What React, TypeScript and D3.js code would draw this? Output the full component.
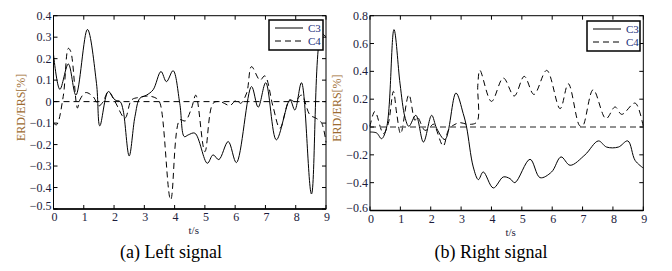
import React from 'react';
import * as d3 from 'd3';

type Pt = [number, number];

// (a) Left signal, [t, value]
const leftC3: Pt[] = [
  [0, 0.22], [0.21, 0.057], [0.49, 0.175], [0.74, 0.03], [1.12, 0.336], [1.42, 0.085],
  [1.53, -0.113], [1.81, 0.047], [2.03, 0.008], [2.2, 0], [2.3, -0.04], [2.5, -0.253],
  [2.69, -0.07], [2.85, 0.015], [3.07, 0.03], [3.29, 0.055], [3.55, 0.14], [3.73, 0.093],
  [3.95, 0.144], [4.17, -0.008], [4.32, -0.163], [4.45, -0.155], [4.67, -0.147],
  [5.08, -0.287], [5.27, -0.248], [5.46, -0.27], [5.77, -0.186], [6.04, -0.284],
  [6.54, 0.07], [6.76, -0.026], [7.01, 0.088], [7.36, -0.178], [7.81, 0.008],
  [7.97, -0.039], [8.19, 0.088], [8.52, -0.43], [8.85, 0.318], [9, 0.3],
];
const leftC4: Pt[] = [
  [0, -0.1], [0.1, -0.108], [0.32, 0.023], [0.49, 0.248], [0.57, 0.233], [0.79, -0.03],
  [0.87, 0.008], [1.06, 0.042], [1.31, 0.023], [1.5, -0.02], [1.64, 0], [1.81, 0.046],
  [2.03, 0], [2.36, -0.077], [2.58, 0.008], [2.85, 0.02], [3.13, 0.026], [3.4, 0.015],
  [3.52, -0.008], [3.87, -0.457], [4.17, -0.085], [4.35, -0.09], [4.56, -0.03],
  [4.7, 0.03], [5.0, -0.233], [5.27, -0.008], [5.5, 0], [5.83, -0.018], [6.04, 0.008],
  [6.18, -0.008], [6.38, 0.04], [6.54, 0.163], [6.82, 0.1], [6.98, 0.12], [7.25, -0.023],
  [7.48, -0.124], [7.8, 0.008], [7.97, 0], [8.19, 0.03], [8.47, -0.062], [8.68, -0.078],
  [8.85, -0.098], [9, -0.19],
];

// (b) Right signal, [t, value]
const rightC3: Pt[] = [
  [0, -0.036], [0.22, -0.043], [0.38, -0.084], [0.55, 0], [0.79, 0.7], [0.99, 0.31],
  [1.15, 0.072], [1.28, 0.005], [1.51, 0.084], [1.76, -0.108], [2.03, 0.084], [2.2, -0.012],
  [2.47, -0.09], [2.83, 0.244], [3.07, 0.096], [3.18, 0], [3.4, -0.287], [3.57, -0.378],
  [3.73, -0.323], [4.06, -0.438], [4.39, -0.359], [4.61, -0.371], [4.77, -0.4],
  [5.27, -0.232], [5.6, -0.364], [5.98, -0.323], [6.29, -0.215], [6.59, -0.275],
  [7.08, -0.2], [7.52, -0.1], [7.79, -0.144], [8.18, -0.144], [8.49, -0.1], [8.73, -0.24],
  [9, -0.295],
];
const rightC4: Pt[] = [
  [0, 0.005], [0.16, 0.112], [0.44, -0.048], [0.6, 0.024], [0.77, 0.256], [0.88, 0.096],
  [1.01, -0.048], [1.28, 0.232], [1.48, 0.048], [1.56, 0.072], [1.81, -0.024], [1.98, 0],
  [2.09, 0.02], [2.41, -0.136], [2.58, -0.024], [2.74, 0.012], [2.96, 0.031], [3.24, 0.019],
  [3.52, 0.036], [3.55, 0.3], [3.62, 0.407], [4.0, 0.184], [4.39, 0.352], [4.75, 0.223],
  [5.08, 0.364], [5.4, 0.234], [5.82, 0.407], [6.26, 0.132], [6.53, 0.311], [6.9, 0.01],
  [7.0, 0.005], [7.35, 0.268], [7.77, 0.06], [8.07, 0.144], [8.29, 0.091], [8.73, 0.172],
  [9, 0],
];

const xTicks = [0, 1, 2, 3, 4, 5, 6, 7, 8, 9];
const leftYTicks = [-0.5, -0.4, -0.3, -0.2, -0.1, 0, 0.1, 0.2, 0.3, 0.4];
const rightYTicks = [-0.6, -0.4, -0.2, 0, 0.2, 0.4, 0.6, 0.8];
const seriesNames = ['C3', 'C4'];

const serif = "'Liberation Serif', 'Times New Roman', 'DejaVu Serif', serif";
const tickColor = '#1c1c3c';
const labelColor = '#9c6b30';
const legendColor = '#22307a';

interface PanelProps {
  left: number;
  right: number;
  top: number;
  bottom: number;
  yDomain: [number, number];
  yTicks: number[];
  c3: Pt[];
  c4: Pt[];
  caption: string;
  captionX: number;
  zeroGrey: boolean;
  legendBox: [number, number, number, number];
}

const Panel: React.FC<PanelProps> = (p) => {
  const x = d3.scaleLinear().domain([0, 9]).range([p.left, p.right]);
  const y = d3.scaleLinear().domain(p.yDomain).range([p.bottom, p.top]);
  const line = d3
    .line<Pt>()
    .x((d) => x(d[0]))
    .y((d) => y(d[1]))
    .curve(d3.curveCatmullRom.alpha(0.5));
  const [lx, ly, lw, lh] = p.legendBox;
  const tl = 4;
  const fmt = (v: number) => (v === 0 ? '0' : d3.format('.1f')(v));

  return (
    <g>
      <path d={line(p.c3) || ''} fill="none" stroke="#000" strokeWidth={1} />
      <path d={line(p.c4) || ''} fill="none" stroke="#000" strokeWidth={1} strokeDasharray="6,4" />
      <line
        x1={p.left}
        x2={p.right}
        y1={y(0)}
        y2={y(0)}
        stroke={p.zeroGrey ? '#6e6e6e' : '#000'}
        strokeWidth={p.zeroGrey ? 1.6 : 1}
        strokeDasharray="6,4"
      />
      <rect x={p.left} y={p.top} width={p.right - p.left} height={p.bottom - p.top} fill="none" stroke="#000" strokeWidth={1} />
      <line x1={p.left} x2={p.right} y1={p.bottom} y2={p.bottom} stroke="#000" strokeWidth={1.6} />
      {xTicks.map((t) => (
        <g key={'x' + t}>
          <line x1={x(t)} x2={x(t)} y1={p.bottom} y2={p.bottom - tl} stroke="#000" />
          <line x1={x(t)} x2={x(t)} y1={p.top} y2={p.top + tl} stroke="#000" />
          <text x={x(t) + 1} y={p.bottom + 12} textAnchor="middle" fontSize={12} style={{ fontFamily: serif }} fill={tickColor}>
            {t}
          </text>
        </g>
      ))}
      {p.yTicks.map((v) => (
        <g key={'y' + v}>
          <line x1={p.left} x2={p.left + tl} y1={y(v)} y2={y(v)} stroke="#000" />
          <line x1={p.right} x2={p.right - tl} y1={y(v)} y2={y(v)} stroke="#000" />
          <text
            x={p.left - 2}
            y={y(v) + 4 - (v === p.yDomain[0] ? 3 : 0)}
            textAnchor="end"
            fontSize={12}
            style={{ fontFamily: serif }}
            fill={tickColor}
          >
            {fmt(v)}
          </text>
        </g>
      ))}
      <text
        transform={`translate(${p.left - 29},${(p.top + p.bottom) / 2 - 5}) rotate(-90)`}
        textAnchor="middle"
        fontSize={12}
        style={{ fontFamily: serif }}
        fill={labelColor}
      >
        ERD/ERS[%]
      </text>
      <text x={(p.left + p.right) / 2 + 4} y={p.bottom + 25} textAnchor="middle" fontSize={11} style={{ fontFamily: serif }} fill={tickColor}>
        t/s
      </text>
      <rect x={lx} y={ly} width={lw} height={lh} fill="#fff" stroke="#000" strokeWidth={1.5} />
      {seriesNames.map((name, i) => (
        <g key={name}>
          <line
            x1={lx + 6}
            x2={lx + 34}
            y1={ly + 8 + i * 13}
            y2={ly + 8 + i * 13}
            stroke="#000"
            strokeWidth={1}
            strokeDasharray={i === 1 ? '6,4' : undefined}
          />
          <text x={lx + 39} y={ly + 12 + i * 13} fontSize={11} style={{ fontFamily: serif }} fill={legendColor}>
            {name}
          </text>
        </g>
      ))}
      <text x={p.captionX} y={258} textAnchor="middle" fontSize={18} style={{ fontFamily: serif }} fill="#000">
        {p.caption}
      </text>
    </g>
  );
};

export default function App() {
  return (
    <svg width={672} height={271} style={{ position: 'absolute', left: 0, top: 0, background: '#fff' }}>
      <rect width={672} height={271} fill="#fff" />
      <Panel
        left={53.5}
        right={326}
        top={15.7}
        bottom={209}
        yDomain={[-0.5, 0.4]}
        yTicks={leftYTicks}
        c3={leftC3}
        c4={leftC4}
        caption="(a) Left signal"
        captionX={171}
        zeroGrey={false}
        legendBox={[269, 20, 54, 30]}
      />
      <Panel
        left={370}
        right={643.3}
        top={15.7}
        bottom={210.5}
        yDomain={[-0.6, 0.8]}
        yTicks={rightYTicks}
        c3={rightC3}
        c4={rightC4}
        caption="(b) Right signal"
        captionX={491}
        zeroGrey={true}
        legendBox={[587, 21, 53, 30]}
      />
    </svg>
  );
}
